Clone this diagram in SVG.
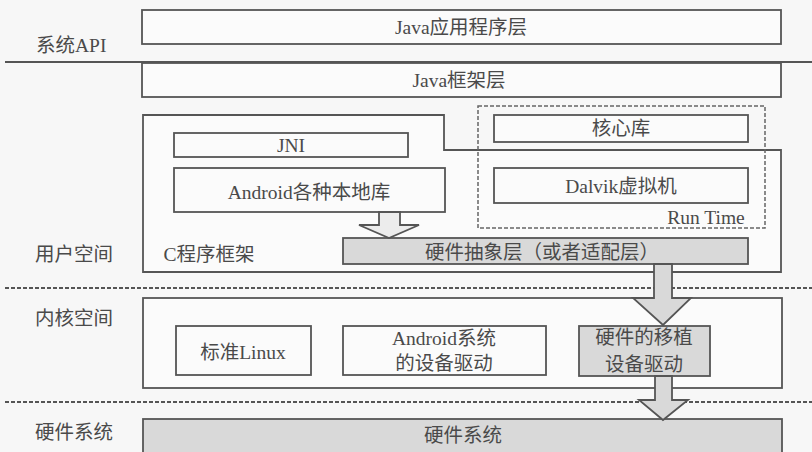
<svg xmlns="http://www.w3.org/2000/svg" width="812" height="452" viewBox="0 0 812 452">
<style>
text{font-family:"Liberation Serif","Noto Sans CJK SC",serif;font-size:19.5px;fill:#4a4a4a;text-anchor:middle}
.lbl{text-anchor:start}
.box{fill:#fbfbfb;stroke:#555;stroke-width:1.8}
.gbox{fill:#d9d9d9;stroke:#555;stroke-width:1.8}
.dash{fill:none;stroke:#666;stroke-width:1.5;stroke-dasharray:4 2}
.sep{stroke:#555;stroke-width:2}
.dsep{stroke:#555;stroke-width:2;stroke-dasharray:4 2}
.arr{stroke:#555;stroke-width:1.8;stroke-linejoin:miter}
</style>
<rect width="812" height="452" fill="#f7f7f7"/>
<!-- separators -->
<line class="sep" x1="5" y1="62" x2="812" y2="62"/>
<line class="dsep" x1="5" y1="288" x2="812" y2="288"/>
<line class="dsep" x1="5" y1="402" x2="812" y2="402"/>
<!-- side labels -->
<text class="lbl" x="36" y="52">系统API</text>
<text class="lbl" x="35" y="261">用户空间</text>
<text class="lbl" x="35" y="325">内核空间</text>
<text class="lbl" x="35" y="439">硬件系统</text>
<g id="java-app">
<rect class="box" x="142" y="10" width="639" height="34"/>
<text x="461" y="34">Java应用程序层</text>
</g>
<g id="java-framework">
<rect class="box" x="142" y="63" width="639" height="34"/>
<text x="459" y="87">Java框架层</text>
</g>
<g id="c-framework">
<path class="box" d="M143,115 H444 V150 H781 V272 H143 Z"/>
<text x="209" y="261">C程序框架</text>
</g>
<g id="runtime">
<rect class="dash" x="478" y="106" width="287" height="122"/>
<text x="706" y="224">Run Time</text>
</g>
<g id="core-lib">
<rect class="box" x="494" y="115" width="254" height="27"/>
<text x="621" y="135">核心库</text>
</g>
<g id="dalvik">
<rect class="box" x="494" y="168" width="254" height="35"/>
<text x="621" y="193">Dalvik虚拟机</text>
</g>
<g id="jni">
<rect class="box" x="174" y="133" width="234" height="24"/>
<text x="291" y="152">JNI</text>
</g>
<g id="native-libs">
<rect class="box" x="174" y="168" width="271" height="44"/>
<text x="309" y="199">Android各种本地库</text>
</g>
<g id="hal">
<rect class="gbox" x="343" y="238" width="405" height="26"/>
<text x="542" y="259">硬件抽象层（或者适配层）</text>
</g>
<g id="kernel">
<rect class="box" x="143" y="298" width="639" height="90"/>
</g>
<g id="linux">
<rect class="box" x="176" y="326" width="135" height="49"/>
<text x="243" y="359">标准Linux</text>
</g>
<g id="android-drivers">
<rect class="box" x="343" y="326" width="203" height="49"/>
<text x="444" y="345">Android系统</text>
<text x="444" y="370">的设备驱动</text>
</g>
<g id="ported-drivers">
<rect class="gbox" x="579" y="326" width="131" height="50"/>
<text x="644" y="344">硬件的移植</text>
<text x="644" y="371">设备驱动</text>
</g>
<g id="hardware">
<rect class="gbox" x="143" y="419" width="639" height="40"/>
<text x="463" y="442">硬件系统</text>
</g>
<g id="connectors">
<polygon class="arr" fill="#ececec" points="379,212 400,212 400,225 419,225 389,238 359,225 379,225"/>
<polygon class="arr" fill="#d9d9d9" points="654,264 672,264 672,298 691,298 663,325 633,298 654,298"/>
<polygon class="arr" fill="#d9d9d9" points="655,376 672,376 672,400 688,400 663,420 639,400 655,400"/>
</g>
</svg>
